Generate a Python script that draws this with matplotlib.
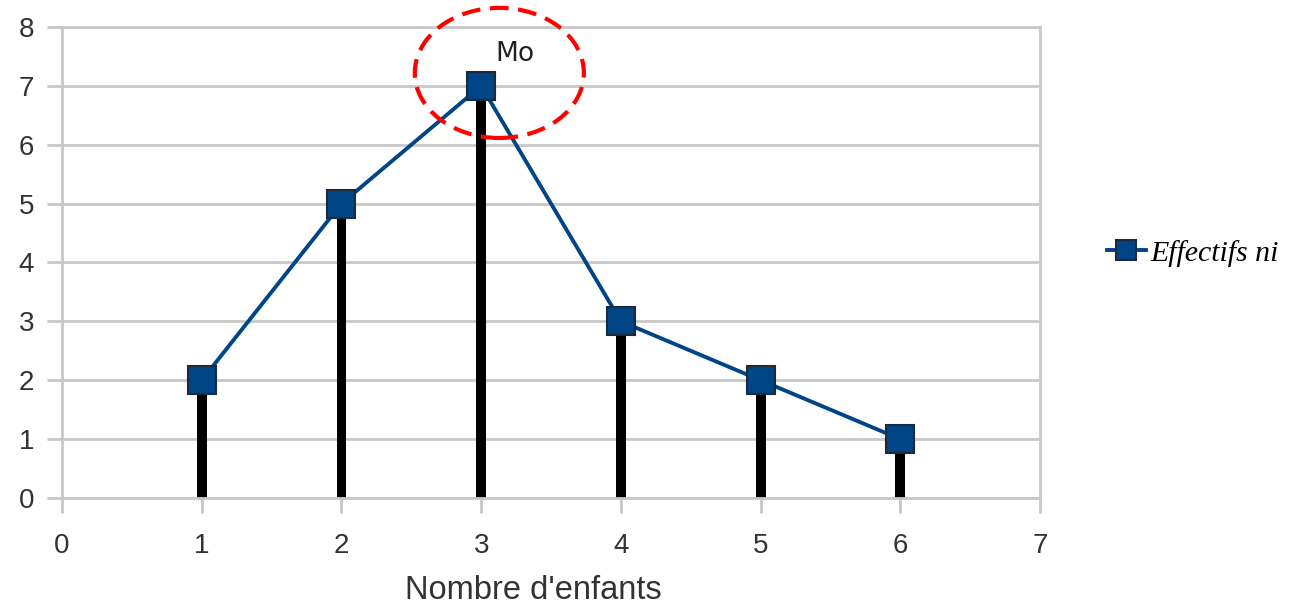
import matplotlib
matplotlib.use("Agg")
import matplotlib.pyplot as plt
from matplotlib.patches import Ellipse

# nombre d'enfants par famille et effectifs
enfants = [1, 2, 3, 4, 5, 6]
effectifs = [2, 5, 7, 3, 2, 1]
x_ticks = [0, 1, 2, 3, 4, 5, 6, 7]
y_ticks = [0, 1, 2, 3, 4, 5, 6, 7, 8]
mode_x = 3
mode_y = 7

grid_col = "#c8c8c8"
blue = "#004586"
txt_col = "#333333"

fig = plt.figure(figsize=(12.97, 6.07), dpi=100)
ax = fig.add_axes([0.0478, 0.1796, 0.7541, 0.7759])

# baton diagram + polygon
ax.bar(enfants, effectifs, width=0.07, color="black", zorder=2)
ax.plot(enfants, effectifs, color=blue, lw=2.8, marker="s", markersize=19.5,
        markerfacecolor=blue, markeredgecolor="#1c2a3a", markeredgewidth=1.5,
        label="Effectifs ni", zorder=3)

ax.set_xlim(0, 7)
ax.set_ylim(0, 8)
ax.set_xticks(x_ticks)
ax.set_yticks(y_ticks)
ax.grid(axis="y", color=grid_col, lw=2, zorder=0)
for s in ax.spines.values():
    s.set_color(grid_col)
    s.set_linewidth(2)
ax.tick_params(colors=grid_col, width=2, length=11, pad=9,
               labelcolor=txt_col, labelsize=20)
ax.tick_params(axis="x", pad=14)
for lab in ax.get_xticklabels() + ax.get_yticklabels():
    lab.set_fontfamily("Liberation Sans")
ax.set_xlabel("Nombre d'enfants", fontsize=23.5, color=txt_col,
              family="Liberation Sans", labelpad=14)
ax.xaxis.set_label_coords(0.482, -0.163)

# mode circled in red
ell = Ellipse((mode_x + 0.13, mode_y + 0.22), 1.21, 2.21, fill=False,
              edgecolor="#ff0000", lw=3, linestyle=(0, (4.5, 2.3)),
              clip_on=False, zorder=4)
ax.add_patch(ell)
ax.text(mode_x + 0.1, mode_y + 0.42, "Mo", fontsize=19, color="#222222",
        family="DejaVu Sans", va="baseline", ha="left")

leg = ax.legend(loc="center left", bbox_to_anchor=(1.053, 0.52), frameon=False,
                markerscale=0.72, handlelength=1.3, handletextpad=0.15,
                borderpad=0, prop={"family": "Liberation Serif",
                                   "style": "italic", "size": 21.5})

fig.savefig("out.png", dpi=100)
